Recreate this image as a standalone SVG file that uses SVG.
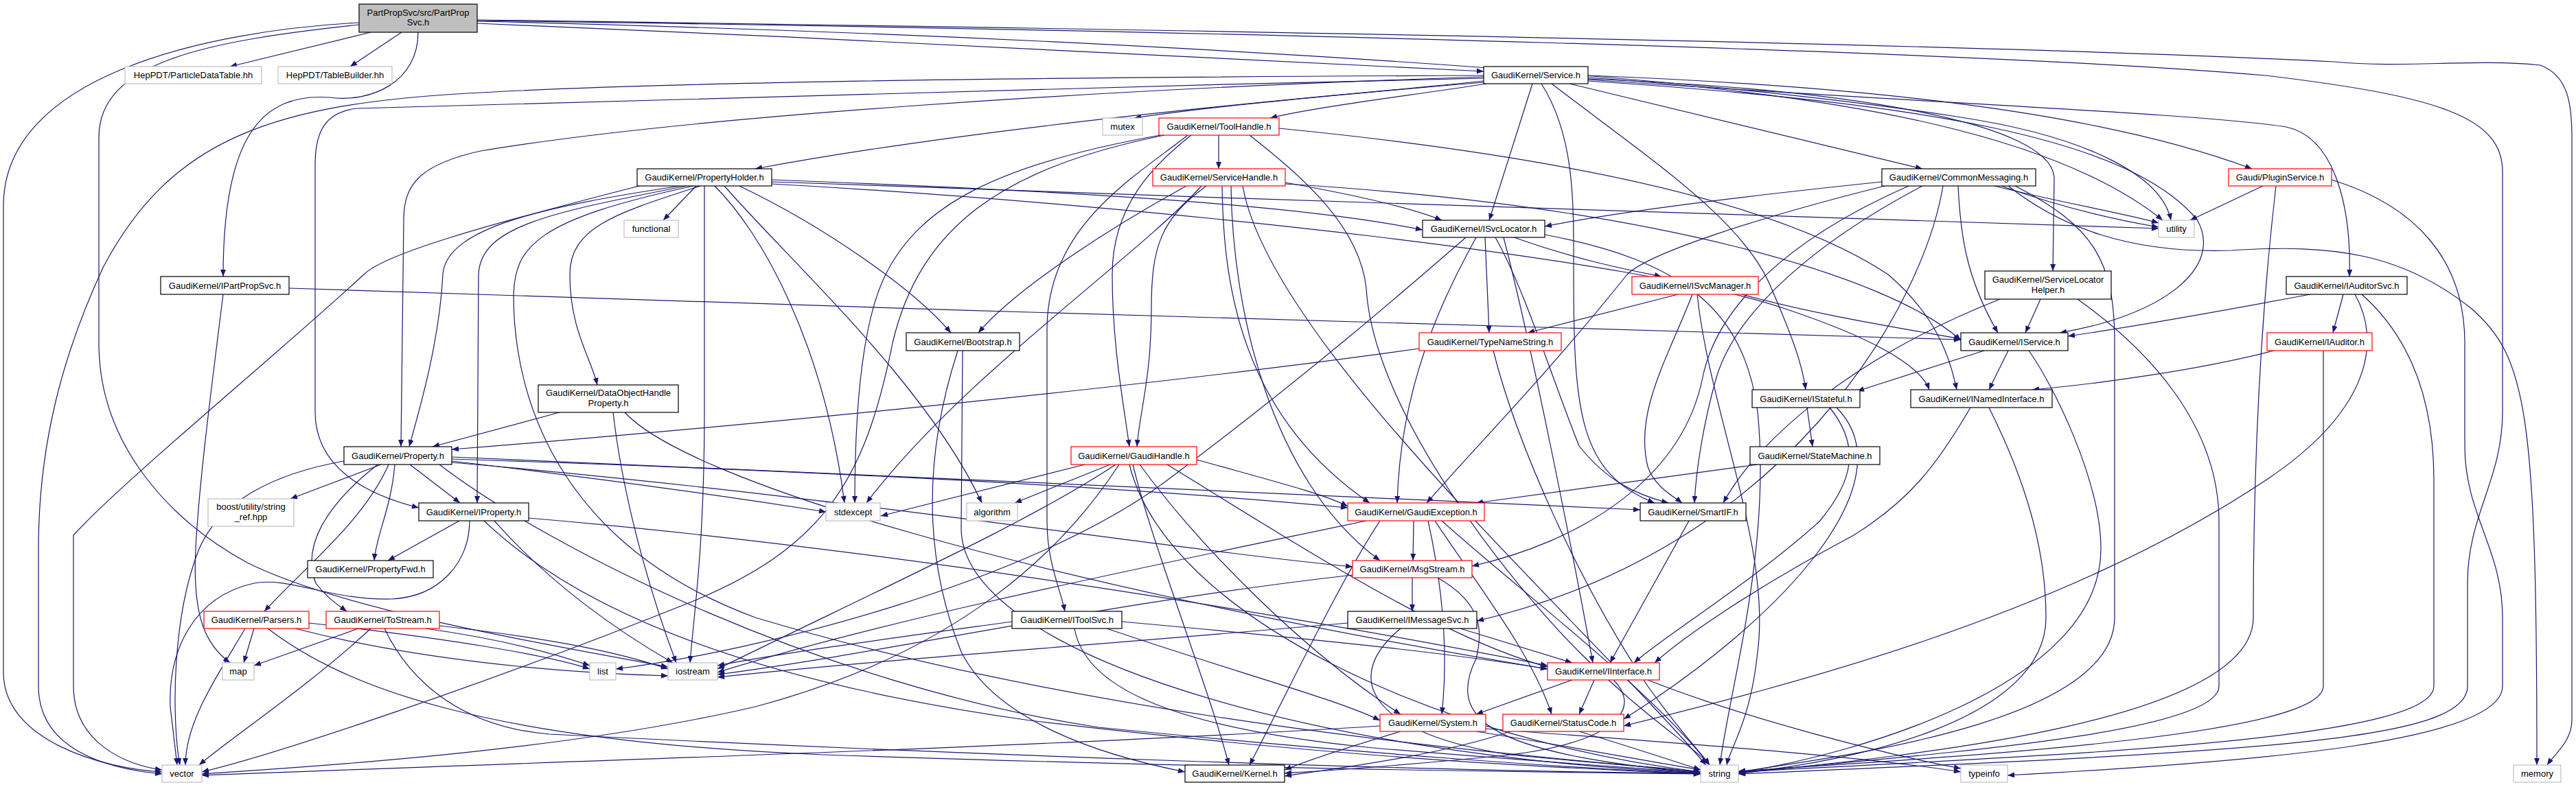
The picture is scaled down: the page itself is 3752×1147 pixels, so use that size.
<svg xmlns="http://www.w3.org/2000/svg" width="3752" height="1147" viewBox="0 0 3752 1147">
<style>
.e path{fill:none;stroke:#191970;stroke-width:1.2;marker-end:url(#a)}
.n rect{fill:#fff;stroke:#000;stroke-width:1.2}
.g rect{stroke:#bfbfbf}
.r rect{stroke:#ff0000}
text{font-family:"Liberation Sans",Arial,sans-serif;font-size:13px;text-anchor:middle;fill:#000}
</style>
<defs>
<marker id="a" viewBox="0 0 10 8" refX="10" refY="4" markerWidth="11" markerHeight="8" orient="auto" markerUnits="userSpaceOnUse"><path d="M0,0L10,4L0,8z" fill="#191970"/></marker>
</defs>
<rect width="3752" height="1147" fill="#fff"/>
<g class="e" id="edges">
<path d="M540,47 L335,97"/>
<path d="M585,47 L510,97"/>
<path d="M609,47 C609,120 540,150 480,142 C380,135 325,200 325,403"/>
<path d="M523,33 C300,45 5,110 5,300 L5,980 C5,1080 150,1120 236,1125"/>
<path d="M523,36 C300,60 144,90 144,200 L144,500 C144,650 250,760 360,820 C500,890 800,940 973,972"/>
<path d="M695,34 C1200,55 1800,85 2161,104"/>
<path d="M695,29 C1500,40 2800,60 3400,90 C3500,100 3600,85 3700,95 C3740,110 3746,150 3746,200 L3746,1050 C3746,1080 3720,1100 3710,1115"/>
<path d="M695,30 C1800,45 2900,75 3300,110 C3550,140 3645,170 3645,250 L3645,600 C3645,700 3594,750 3594,850 L3594,1000 C3594,1080 3300,1095 2532,1128"/>
<path d="M695,31 C1500,50 2400,100 2850,170 C3050,200 3150,260 3162,321"/>
<path d="M2161,118 C2000,135 1800,150 1652,172"/>
<path d="M2165,122 C2050,140 1920,155 1850,172"/>
<path d="M2161,120 C1800,150 1400,190 1100,246"/>
<path d="M2161,112 C1600,130 1000,170 700,220 C610,240 588,270 588,320 L584,651"/>
<path d="M2161,114 C1500,130 700,148 520,158 C475,163 459,190 459,240 L459,600 C459,680 530,720 610,740"/>
<path d="M2161,110 C1600,112 1000,118 700,135 C400,150 250,200 150,390 C90,520 56,650 56,800 L56,1000 C56,1090 150,1120 236,1128"/>
<path d="M2232,122 L2169,321"/>
<path d="M2245,122 C2295,200 2292,300 2292,400 C2292,600 2300,690 2410,733"/>
<path d="M2260,122 C2400,230 2540,320 2580,420 C2610,490 2625,530 2630,568"/>
<path d="M2286,122 L2800,246"/>
<path d="M2313,110 C2700,125 3050,160 3280,246"/>
<path d="M2313,113 C2700,140 3000,200 3150,321"/>
<path d="M2313,116 C2800,150 3200,165 3330,185 C3400,200 3425,300 3422,403"/>
<path d="M2313,118 C2800,150 3100,200 3200,320 C3240,390 3150,460 3000,485"/>
<path d="M2313,115 C2700,130 2990,180 2992,260 L2990,395"/>
<path d="M1775,197 L1775,246"/>
<path d="M1735,197 C1680,240 1620,300 1620,400 C1620,500 1635,580 1645,651"/>
<path d="M1730,197 C1650,260 1525,330 1525,480 L1525,760 C1525,820 1545,860 1551,891"/>
<path d="M1690,197 C1450,240 1340,300 1290,400 C1255,470 1245,600 1245,733"/>
<path d="M1696,197 C1460,245 1340,330 1300,500 C1260,700 1200,800 1000,880 C700,1000 400,1100 294,1125"/>
<path d="M1820,197 C1900,260 1980,330 1990,420 C2000,600 2200,850 2300,950 C2400,1050 2470,1090 2490,1115"/>
<path d="M1863,187 C2300,230 2600,300 2750,400 C2820,460 2840,520 2850,568"/>
<path d="M1757,271 C1690,320 1677,360 1677,450 C1677,550 1660,600 1656,651"/>
<path d="M1728,271 C1620,330 1480,420 1425,485"/>
<path d="M1750,271 C1650,380 1400,550 1262,733"/>
<path d="M1872,266 C1950,280 2050,300 2100,321"/>
<path d="M1780,271 C1782,400 1800,600 1995,733"/>
<path d="M1793,271 C1795,450 1850,700 2010,817"/>
<path d="M1872,268 C2400,300 2750,400 2856,496"/>
<path d="M1810,271 C1850,500 2300,900 2485,1115"/>
<path d="M1014,271 L966,321"/>
<path d="M990,271 C800,300 650,330 645,400 C640,500 610,600 596,651"/>
<path d="M1000,271 C800,310 700,330 697,400 L695,733"/>
<path d="M1020,271 C900,310 830,330 830,400 C830,480 860,520 870,561"/>
<path d="M935,270 C700,330 560,370 530,400 C400,520 180,700 107,780 L107,1000 C107,1080 180,1115 236,1122"/>
<path d="M1010,271 C780,320 750,360 748,430 C748,600 830,800 1100,900 C1600,1050 2200,1100 2477,1125"/>
<path d="M1124,262 C1600,280 1900,300 2072,335"/>
<path d="M1124,265 C1800,290 2600,315 3144,333"/>
<path d="M1026,271 L1026,600 C1026,800 1010,900 1005,966"/>
<path d="M1077,271 C1200,330 1330,420 1385,485"/>
<path d="M1041,271 C1110,340 1200,500 1230,733"/>
<path d="M1055,271 C1150,380 1350,560 1430,733"/>
<path d="M1124,268 C1700,300 2400,380 2600,450 C2750,500 2800,540 2810,568"/>
<path d="M2741,265 C2500,290 2350,310 2250,330"/>
<path d="M2905,271 C3000,295 3100,312 3144,325"/>
<path d="M2915,271 C3010,305 3090,322 3144,331"/>
<path d="M2852,271 C2855,330 2860,400 2910,485"/>
<path d="M2780,271 C2600,350 2500,450 2480,550 C2450,700 2300,790 2144,825"/>
<path d="M2800,271 C2650,350 2530,450 2500,550 C2480,620 2470,690 2468,733"/>
<path d="M2745,271 C2550,320 2400,370 2370,400 C2250,550 2150,650 2078,733"/>
<path d="M2830,271 C2800,450 2600,800 2151,905"/>
<path d="M2925,271 C3000,330 3100,370 3250,365 C3400,355 3500,370 3600,450 C3680,520 3695,600 3695,1115"/>
<path d="M2935,271 C3050,330 3080,380 3080,500 L3080,900 C3080,1050 2700,1100 2532,1125"/>
<path d="M3296,271 L3190,321"/>
<path d="M3315,271 C3300,400 3282,600 3282,900 C3282,1050 2800,1100 2532,1127"/>
<path d="M3396,262 C3520,300 3590,380 3590,500 L3590,650 C3590,750 3645,800 3645,900 L3645,1000 C3645,1080 3300,1110 2924,1130"/>
<path d="M2205,346 C2300,380 2380,395 2420,403"/>
<path d="M2163,346 L2169,485"/>
<path d="M2178,346 C2220,420 2260,550 2300,650 C2340,700 2380,720 2430,733"/>
<path d="M2150,346 C2110,420 2040,550 2035,733"/>
<path d="M2135,346 C2050,420 1900,550 1700,700 C1500,850 1100,950 897,975"/>
<path d="M2250,342 C2450,380 2540,450 2560,600 C2580,800 2520,1000 2505,1115"/>
<path d="M2190,346 C2230,500 2290,800 2320,966"/>
<path d="M2444,429 L2225,485"/>
<path d="M2465,429 C2430,520 2380,600 2400,680 C2410,710 2440,725 2450,733"/>
<path d="M2537,429 C2650,460 2780,480 2856,494"/>
<path d="M2472,429 C2490,600 2580,800 2560,950 C2550,1050 2520,1090 2515,1115"/>
<path d="M2972,436 L2950,485"/>
<path d="M2913,436 C2700,520 2560,640 2510,733"/>
<path d="M3026,436 C3130,510 3232,620 3232,760 L3232,1000 C3232,1070 2800,1100 2532,1126"/>
<path d="M3413,429 L3398,485"/>
<path d="M3365,429 C3200,460 3080,480 3012,490"/>
<path d="M3440,429 C3520,500 3545,600 3545,700 L3545,1000 C3545,1080 3000,1100 2532,1125"/>
<path d="M3430,429 C3470,500 3450,600 3300,700 C3000,900 2600,1000 2365,1058"/>
<path d="M3312,511 C3200,540 3050,560 2960,568"/>
<path d="M3384,511 L3384,1000 C3384,1070 2900,1100 2532,1124"/>
<path d="M1395,511 C1350,650 1340,800 1400,950 C1450,1050 1600,1100 1726,1125"/>
<path d="M1402,511 L1400,770 C1400,950 1900,1100 2477,1127"/>
<path d="M2067,508 C1700,560 1100,620 658,655"/>
<path d="M2175,511 C2210,650 2300,850 2400,1000 C2450,1070 2480,1100 2490,1115"/>
<path d="M2925,511 L2897,568"/>
<path d="M2890,511 L2705,570"/>
<path d="M2955,511 C2990,560 3060,700 3060,800 C3060,1000 2700,1100 2532,1126"/>
<path d="M815,601 L630,651"/>
<path d="M893,601 C910,750 960,900 985,966"/>
<path d="M910,601 C1000,700 1500,850 2254,975"/>
<path d="M2632,594 L2640,651"/>
<path d="M2665,594 C2710,650 2700,700 2650,760 C2550,850 2420,930 2380,966"/>
<path d="M2675,594 C2780,700 2600,900 2365,1048"/>
<path d="M2870,594 C2820,680 2780,730 2700,780 C2550,860 2450,930 2410,966"/>
<path d="M2897,594 C2950,700 2980,800 2980,900 C2980,1050 2700,1110 2532,1127"/>
<path d="M2560,677 C2400,700 2250,720 2150,733"/>
<path d="M555,677 L423,727"/>
<path d="M597,677 L670,733"/>
<path d="M575,677 C570,740 548,780 545,817"/>
<path d="M566,677 C530,760 440,830 385,891"/>
<path d="M550,677 C470,740 440,800 460,850 C475,870 490,880 505,891"/>
<path d="M501,672 C400,690 320,730 290,800 C250,900 250,1050 262,1115"/>
<path d="M658,672 C900,700 1100,730 1203,746"/>
<path d="M658,666 C1200,690 1900,720 2389,743"/>
<path d="M658,669 C1300,690 1700,715 1963,740"/>
<path d="M658,674 C1200,720 1700,800 1970,826"/>
<path d="M640,677 C800,800 1200,1000 1600,1060 C2000,1100 2300,1120 2477,1128"/>
<path d="M669,759 L565,817"/>
<path d="M770,755 C1300,800 1900,900 2254,970"/>
<path d="M684,759 C684,820 640,870 570,873 C480,875 420,840 370,850 C280,870 245,950 248,1030 L258,1115"/>
<path d="M705,759 C800,850 1000,980 1500,1050 C2000,1110 2300,1120 2477,1128"/>
<path d="M720,759 C800,850 900,920 980,966"/>
<path d="M370,916 L355,966"/>
<path d="M357,916 C320,980 270,1050 270,1115"/>
<path d="M450,908 C650,930 800,955 859,975"/>
<path d="M390,916 C500,1000 700,1080 1200,1100 C1800,1120 2200,1125 2477,1128"/>
<path d="M430,916 C600,960 800,980 973,985"/>
<path d="M522,916 L370,970"/>
<path d="M540,916 C450,1000 330,1080 290,1115"/>
<path d="M620,916 C720,930 800,950 859,970"/>
<path d="M640,912 C800,930 900,950 973,975"/>
<path d="M560,916 C600,1000 680,1060 800,1070 C1400,1100 2100,1125 2477,1127"/>
<path d="M1580,677 L1283,752"/>
<path d="M1617,677 L1478,733"/>
<path d="M1625,677 C1500,760 1300,850 1045,975"/>
<path d="M1743,670 C1850,700 1930,720 1963,738"/>
<path d="M1700,677 C1900,800 2100,930 2254,972"/>
<path d="M1660,677 C1750,800 1900,950 2040,1041"/>
<path d="M1645,677 C1700,900 2100,1080 2477,1125"/>
<path d="M1630,677 C1550,800 1400,950 1100,1030 C800,1100 400,1120 294,1128"/>
<path d="M1650,677 C1680,800 1760,1000 1790,1115"/>
<path d="M2059,759 L2058,817"/>
<path d="M2010,759 C1950,850 1880,1000 1820,1115"/>
<path d="M2100,759 C2200,850 2400,1000 2490,1115"/>
<path d="M2090,759 C2150,850 2230,950 2260,1041"/>
<path d="M2080,759 C2100,850 2110,950 2100,1041"/>
<path d="M1990,759 C1700,820 1300,900 1045,980"/>
<path d="M2057,842 L2057,891"/>
<path d="M1970,838 C1600,880 1300,950 1045,983"/>
<path d="M2094,842 C2160,880 2160,920 2150,960 C2100,1060 2200,1100 2477,1127"/>
<path d="M2127,916 L2290,966"/>
<path d="M1963,908 C1600,940 1300,960 1045,987"/>
<path d="M2040,916 C1950,990 2000,1070 2200,1100 C2350,1115 2450,1120 2477,1127"/>
<path d="M1634,906 C1900,930 2100,950 2254,975"/>
<path d="M1612,916 C1800,980 1950,1020 2010,1050"/>
<path d="M1565,916 C1580,1000 1700,1060 2000,1090 C2300,1115 2430,1122 2477,1127"/>
<path d="M1474,906 C1300,930 1150,950 1045,970"/>
<path d="M2290,991 L2150,1041"/>
<path d="M2322,991 L2300,1041"/>
<path d="M2350,991 C2390,1030 2360,1080 2200,1100 C2000,1120 1900,1125 1871,1127"/>
<path d="M2400,991 C2550,1050 2750,1100 2856,1120"/>
<path d="M2040,1066 C1960,1090 1900,1110 1871,1122"/>
<path d="M2150,1066 C2300,1090 2400,1110 2477,1122"/>
<path d="M2010,1058 C1500,1090 800,1110 294,1130"/>
<path d="M2164,1062 C2400,1080 2700,1100 2856,1125"/>
<path d="M2300,1066 C2380,1090 2440,1110 2477,1122"/>
<path d="M2200,1066 C2100,1100 1950,1120 1871,1131"/>
<path d="M2460,759 L2345,966"/>
<path d="M421,420 C1200,445 2200,480 2856,495"/>
<path d="M325,429 C310,550 290,700 285,800 C280,900 300,940 335,966"/>
</g>
<g id="n_root" class="n"><rect x="523" y="6" width="172" height="41" fill="#bfbfbf" style="fill:#bfbfbf"/><text x="609" y="23">PartPropSvc/src/PartProp</text><text x="609" y="37">Svc.h</text></g>
<g id="n_pdt" class="n g"><rect x="182" y="97" width="199" height="25"/><text x="281.5" y="114">HepPDT/ParticleDataTable.hh</text></g>
<g id="n_tb" class="n g"><rect x="405" y="97" width="166" height="25"/><text x="488" y="114">HepPDT/TableBuilder.hh</text></g>
<g id="n_service" class="n"><rect x="2161" y="97" width="152" height="25"/><text x="2237" y="114">GaudiKernel/Service.h</text></g>
<g id="n_mutex" class="n g"><rect x="1606" y="172" width="58" height="25"/><text x="1635" y="189">mutex</text></g>
<g id="n_toolhandle" class="n r"><rect x="1688" y="172" width="175" height="25"/><text x="1775.5" y="189">GaudiKernel/ToolHandle.h</text></g>
<g id="n_propertyholder" class="n"><rect x="928" y="246" width="196" height="25"/><text x="1026" y="263">GaudiKernel/PropertyHolder.h</text></g>
<g id="n_servicehandle" class="n r"><rect x="1679" y="246" width="193" height="25"/><text x="1775.5" y="263">GaudiKernel/ServiceHandle.h</text></g>
<g id="n_commonmessaging" class="n"><rect x="2741" y="246" width="224" height="25"/><text x="2853" y="263">GaudiKernel/CommonMessaging.h</text></g>
<g id="n_pluginservice" class="n r"><rect x="3246" y="246" width="150" height="25"/><text x="3321" y="263">Gaudi/PluginService.h</text></g>
<g id="n_functional" class="n g"><rect x="909" y="321" width="79" height="25"/><text x="948.5" y="338">functional</text></g>
<g id="n_isvclocator" class="n"><rect x="2072" y="321" width="178" height="25"/><text x="2161" y="338">GaudiKernel/ISvcLocator.h</text></g>
<g id="n_utility" class="n g"><rect x="3144" y="321" width="52" height="25"/><text x="3170" y="338">utility</text></g>
<g id="n_servicelocatorhelper" class="n"><rect x="2891" y="395" width="184" height="41"/><text x="2983" y="412">GaudiKernel/ServiceLocator</text><text x="2983" y="427">Helper.h</text></g>
<g id="n_ipartpropsvc" class="n"><rect x="234" y="403" width="187" height="26"/><text x="327.5" y="420.5">GaudiKernel/IPartPropSvc.h</text></g>
<g id="n_isvcmanager" class="n r"><rect x="2377" y="403" width="184" height="26"/><text x="2469" y="420.5">GaudiKernel/ISvcManager.h</text></g>
<g id="n_iauditorsvc" class="n"><rect x="3330" y="403" width="176" height="26"/><text x="3418" y="420.5">GaudiKernel/IAuditorSvc.h</text></g>
<g id="n_bootstrap" class="n"><rect x="1320" y="485" width="165" height="26"/><text x="1402.5" y="502.5">GaudiKernel/Bootstrap.h</text></g>
<g id="n_typenamestring" class="n r"><rect x="2067" y="485" width="207" height="26"/><text x="2170.5" y="502.5">GaudiKernel/TypeNameString.h</text></g>
<g id="n_iservice" class="n"><rect x="2856" y="485" width="156" height="26"/><text x="2934" y="502.5">GaudiKernel/IService.h</text></g>
<g id="n_iauditor" class="n r"><rect x="3302" y="485" width="153" height="26"/><text x="3378.5" y="502.5">GaudiKernel/IAuditor.h</text></g>
<g id="n_dataobjecthandleproperty" class="n"><rect x="784" y="561" width="204" height="40"/><text x="886" y="577">GaudiKernel/DataObjectHandle</text><text x="886" y="592">Property.h</text></g>
<g id="n_istateful" class="n"><rect x="2552" y="568" width="157" height="26"/><text x="2630.5" y="585.5">GaudiKernel/IStateful.h</text></g>
<g id="n_inamedinterface" class="n"><rect x="2783" y="568" width="206" height="26"/><text x="2886" y="585.5">GaudiKernel/INamedInterface.h</text></g>
<g id="n_property" class="n"><rect x="501" y="651" width="157" height="26"/><text x="579.5" y="668.5">GaudiKernel/Property.h</text></g>
<g id="n_gaudihandle" class="n r"><rect x="1560" y="651" width="183" height="26"/><text x="1651.5" y="668.5">GaudiKernel/GaudiHandle.h</text></g>
<g id="n_statemachine" class="n"><rect x="2549" y="651" width="189" height="26"/><text x="2643.5" y="668.5">GaudiKernel/StateMachine.h</text></g>
<g id="n_boost" class="n g"><rect x="303" y="727" width="125" height="40"/><text x="365.5" y="743">boost/utility/string</text><text x="365.5" y="758">_ref.hpp</text></g>
<g id="n_iproperty" class="n"><rect x="610" y="733" width="160" height="26"/><text x="690" y="750.5">GaudiKernel/IProperty.h</text></g>
<g id="n_stdexcept" class="n g"><rect x="1203" y="733" width="79" height="26"/><text x="1242.5" y="750.5">stdexcept</text></g>
<g id="n_algorithm" class="n g"><rect x="1408" y="733" width="74" height="26"/><text x="1445" y="750.5">algorithm</text></g>
<g id="n_gaudiexception" class="n r"><rect x="1963" y="733" width="199" height="26"/><text x="2062.5" y="750.5">GaudiKernel/GaudiException.h</text></g>
<g id="n_smartif" class="n"><rect x="2389" y="733" width="154" height="26"/><text x="2466" y="750.5">GaudiKernel/SmartIF.h</text></g>
<g id="n_propertyfwd" class="n"><rect x="448" y="817" width="183" height="25"/><text x="539.5" y="834">GaudiKernel/PropertyFwd.h</text></g>
<g id="n_msgstream" class="n r"><rect x="1970" y="817" width="174" height="25"/><text x="2057" y="834">GaudiKernel/MsgStream.h</text></g>
<g id="n_parsers" class="n r"><rect x="297" y="891" width="153" height="25"/><text x="373.5" y="908">GaudiKernel/Parsers.h</text></g>
<g id="n_tostream" class="n r"><rect x="475" y="891" width="165" height="25"/><text x="557.5" y="908">GaudiKernel/ToStream.h</text></g>
<g id="n_itoolsvc" class="n"><rect x="1474" y="891" width="160" height="25"/><text x="1554" y="908">GaudiKernel/IToolSvc.h</text></g>
<g id="n_imessagesvc" class="n"><rect x="1963" y="891" width="188" height="25"/><text x="2057" y="908">GaudiKernel/IMessageSvc.h</text></g>
<g id="n_map" class="n g"><rect x="324" y="966" width="46" height="25"/><text x="347" y="983">map</text></g>
<g id="n_list" class="n g"><rect x="859" y="966" width="38" height="25"/><text x="878" y="983">list</text></g>
<g id="n_iostream" class="n g"><rect x="973" y="966" width="72" height="25"/><text x="1009" y="983">iostream</text></g>
<g id="n_iinterface" class="n r"><rect x="2254" y="966" width="163" height="25"/><text x="2335.5" y="983">GaudiKernel/IInterface.h</text></g>
<g id="n_system" class="n r"><rect x="2010" y="1041" width="154" height="25"/><text x="2087" y="1058">GaudiKernel/System.h</text></g>
<g id="n_statuscode" class="n r"><rect x="2189" y="1041" width="176" height="25"/><text x="2277" y="1058">GaudiKernel/StatusCode.h</text></g>
<g id="n_vector" class="n g"><rect x="236" y="1115" width="58" height="25"/><text x="265" y="1132">vector</text></g>
<g id="n_kernel" class="n"><rect x="1726" y="1115" width="145" height="25"/><text x="1798.5" y="1132">GaudiKernel/Kernel.h</text></g>
<g id="n_string" class="n g"><rect x="2477" y="1115" width="55" height="25"/><text x="2504.5" y="1132">string</text></g>
<g id="n_typeinfo" class="n g"><rect x="2856" y="1115" width="68" height="25"/><text x="2890" y="1132">typeinfo</text></g>
<g id="n_memory" class="n g"><rect x="3661" y="1115" width="69" height="25"/><text x="3695.5" y="1132">memory</text></g>
</svg>
